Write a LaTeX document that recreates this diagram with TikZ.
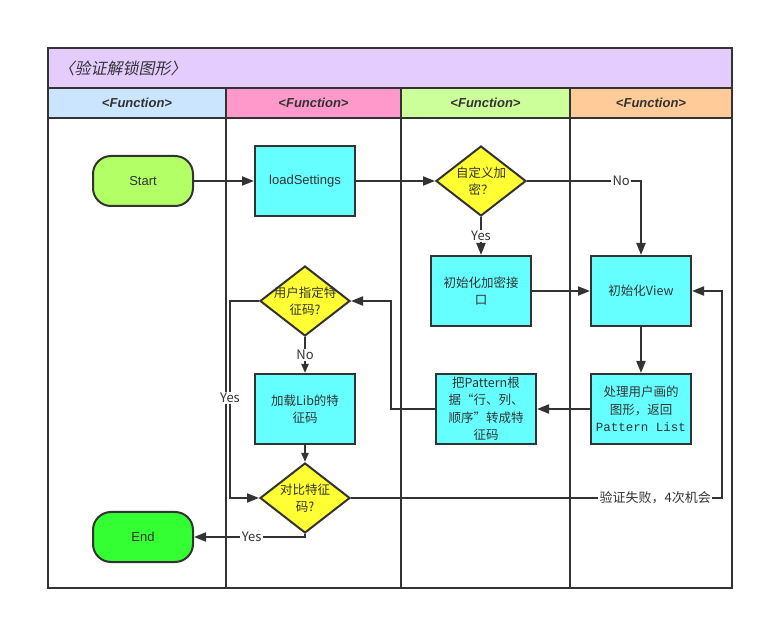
\documentclass[tikz,border=0pt]{standalone}
\usepackage{fontspec}
\setmainfont{Liberation Sans}
\newfontfamily\cjk{Noto Sans CJK SC}
\newfontfamily\cjkslant[FakeSlant=0.2]{Noto Sans CJK SC}
\newfontfamily\monotext{Liberation Mono}
\usetikzlibrary{shapes.geometric,arrows.meta}

\definecolor{ink}{HTML}{333333}
\definecolor{titlebg}{HTML}{E5CCFF}
\definecolor{laneA}{HTML}{CCE5FF}
\definecolor{laneB}{HTML}{FF99CC}
\definecolor{laneC}{HTML}{CCFF99}
\definecolor{laneD}{HTML}{FFCC99}
\definecolor{procfill}{HTML}{66FFFF}
\definecolor{decfill}{HTML}{FFFF33}
\definecolor{startfill}{HTML}{B2FF66}
\definecolor{endfill}{HTML}{33FF33}

\tikzset{
  frame/.style={draw=ink, line width=2pt},
  hdr/.style={font=\bfseries\itshape\fontsize{13}{15}\selectfont, text=ink},
  proc/.style={draw=ink, line width=2pt, fill=procfill, minimum width=100pt,
    minimum height=70pt, inner sep=0pt, align=center, text=ink,
    font=\cjk\fontsize{12.5}{17.5}\selectfont},
  terminal/.style={draw=ink, line width=2pt, rounded corners=18pt, minimum width=100pt,
    minimum height=50pt, inner sep=0pt, text=ink, font=\fontsize{13}{15}\selectfont},
  dec/.style={diamond, draw=ink, line width=2pt, fill=decfill, minimum width=90pt,
    minimum height=70pt, inner sep=0pt},
  dectext/.style={align=center, text=ink, font=\cjk\fontsize{12.5}{17.5}\selectfont},
  arr/.style={draw=ink, line width=2pt, -{Triangle[length=12pt,width=9pt]}},
  sarr/.style={draw=ink, line width=2pt, -{Triangle[length=9pt,width=7pt]}},
  lab/.style={fill=white, inner sep=1.5pt, text=ink, font=\cjk\fontsize{13}{15}\selectfont},
}

\begin{document}
\begin{tikzpicture}[x=1pt, y=-1pt]
\useasboundingbox[fill=white] (0,0) rectangle (764,620);

% pool title and lane headers
\fill[titlebg] (48,48) rectangle (732,88);
\fill[laneA] (48,88) rectangle (226,118);
\fill[laneB] (226,88) rectangle (401,118);
\fill[laneC] (401,88) rectangle (570,118);
\fill[laneD] (570,88) rectangle (732,118);
\node[anchor=west, text=ink, font=\cjkslant\fontsize{16}{18}\selectfont] (title) at (55,68) {〈验证解锁图形〉};
\node[hdr] (h1) at (137,103) {<Function>};
\node[hdr] (h2) at (313.5,103) {<Function>};
\node[hdr] (h3) at (485.5,103) {<Function>};
\node[hdr] (h4) at (651,103) {<Function>};

% lane borders
\draw[frame] (48,88) -- (732,88);
\draw[frame] (48,118) -- (732,118);
\draw[frame] (226,88) -- (226,588);
\draw[frame] (401,88) -- (401,588);
\draw[frame] (570,88) -- (570,588);
\draw[frame] (48,48) rectangle (732,588);

% nodes
\node[terminal, fill=startfill] (start) at (143,181) {Start};
\node[proc, font=\fontsize{13}{15}\selectfont] (load) at (305,181) {loadSettings};
\node[dec] (custom) at (481,181) {};
\node[dectext] at (custom) {自定义加\\密？};
\node[proc] (initenc) at (481,291) {初始化加密接\\口};
\node[proc] (initview) at (641,291) {初始化View};
\node[proc] (handle) at (641,409) {处理用户画的\\图形，返回\\{\monotext Pattern List}};
\node[proc] (convert) at (486,409) {把Pattern根\\据“行、列、\\顺序”转成特\\征码};
\node[dec] (userdef) at (305,301) {};
\node[dectext] at (userdef) {用户指定特\\征码?};
\node[proc] (loadlib) at (305,409) {加载Lib的特\\征码};
\node[dec] (compare) at (305,498) {};
\node[dectext] at (compare) {对比特征\\码?};
\node[terminal, fill=endfill] (end) at (143,537) {End};

% connectors
\draw[arr] (start) -- (load);
\draw[arr] (load) -- (custom.west);
\draw[arr] (custom.east) -| node[lab, pos=0.413] {No} (initview.north);
\draw[arr] (custom.south) -- node[lab] {Yes} (initenc.north);
\draw[arr] (initenc) -- (initview);
\draw[arr] (initview) -- (handle);
\draw[arr] (handle) -- (convert);
\draw[arr] (convert.west) -- ([xshift=-44pt]convert.west) |- (userdef.east);
\draw[sarr] (userdef.south) -- node[lab] {No} (loadlib.north);
\draw[arr] (userdef.west) -- ([xshift=-29pt]userdef.west) |- node[lab, pos=0.246] {Yes} (compare.west);
\draw[sarr] (loadlib) -- (compare.north);
\draw[arr] (compare.east) -| node[lab, pos=0.41] {验证失败，4次机会} ([xshift=30pt]initview.east) -- (initview.east);
\draw[arr] (compare.south) |- node[lab, pos=0.74] {Yes} (end.east);
\end{tikzpicture}
\end{document}
